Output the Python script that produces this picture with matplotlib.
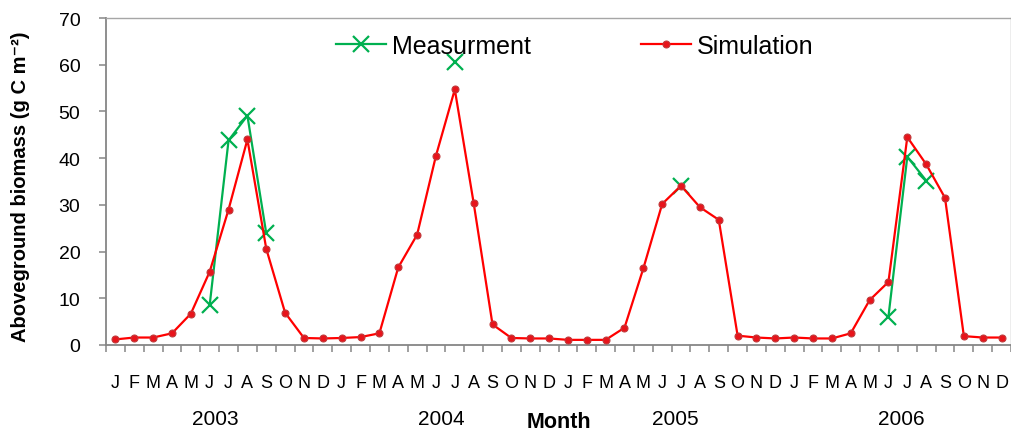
import numpy as np
import matplotlib
matplotlib.use("Agg")
import matplotlib.pyplot as plt
from matplotlib import font_manager

# --- data -----------------------------------------------------------------
month_letters = ["J", "F", "M", "A", "M", "J", "J", "A", "S", "O", "N", "D"]
years = ["2003", "2004", "2005", "2006"]

simulation = [
    1.2, 1.6, 1.6, 2.5, 6.7, 15.7, 29.0, 44.0, 20.6, 6.9, 1.5, 1.4,      # 2003
    1.5, 1.7, 2.5, 16.6, 23.6, 40.5, 54.7, 30.4, 4.4, 1.5, 1.4, 1.4,     # 2004
    1.1, 1.1, 1.1, 3.7, 16.4, 30.2, 34.1, 29.5, 26.8, 2.0, 1.6, 1.4,     # 2005
    1.6, 1.4, 1.4, 2.5, 9.6, 13.5, 44.5, 38.7, 31.5, 1.9, 1.6, 1.6,      # 2006
]

nan = np.nan
measurement = [
    nan, nan, nan, nan, nan, 8.6, 43.8, 49.1, 23.9, nan, nan, nan,       # 2003
    nan, nan, nan, nan, nan, nan, 60.5, nan, nan, nan, nan, nan,         # 2004
    nan, nan, nan, nan, nan, nan, 34.1, nan, nan, nan, nan, nan,         # 2005
    nan, nan, nan, nan, nan, 6.1, 40.3, 35.2, nan, nan, nan, nan,        # 2006
]

# --- fonts ----------------------------------------------------------------
available = {f.name for f in font_manager.fontManager.ttflist}
base_font = "Liberation Sans" if "Liberation Sans" in available else "DejaVu Sans"
narrow_font = "Liberation Sans Narrow" if "Liberation Sans Narrow" in available else base_font
plt.rcParams["font.family"] = [base_font, "DejaVu Sans"]

GREEN = "#00B050"
RED = "#FF0000"
AXIS_GRAY = "#868686"

fig = plt.figure(figsize=(10.12, 4.35), dpi=100)
ax = fig.add_axes([106 / 1012, 1 - 346 / 435, 905 / 1012, 327 / 435])

x = np.arange(len(simulation))
ax.plot(x, measurement, color=GREEN, lw=1.6, marker="x", ms=12, mew=1.6,
        label="Measurment", zorder=3)
ax.plot(x, simulation, color=RED, lw=1.6, marker="o", ms=5,
        mfc="#E8141B", mec="#C0393B", mew=0.8, label="Simulation", zorder=4)

# axes limits and ticks
ax.set_xlim(-0.5, len(simulation) - 0.5)
ax.set_ylim(0, 70)
ax.set_yticks(np.arange(0, 71, 10))
ax.tick_params(axis="y", direction="out", length=5, width=1.1, color=AXIS_GRAY,
               labelsize=14, pad=13.5)

# month boundaries as major ticks, month letters centred as minor labels
ax.set_xticks(np.arange(-0.5, len(simulation), 1.0))
ax.set_xticklabels([])
ax.set_xticks(x, minor=True)
ax.set_xticklabels(month_letters * len(years), minor=True,
                   fontfamily=[narrow_font, base_font], fontsize=13)
ax.tick_params(axis="x", which="major", direction="out", length=5, width=1.1,
               color=AXIS_GRAY)
ax.tick_params(axis="x", which="minor", length=0, pad=21)

for side in ["left", "bottom"]:
    ax.spines[side].set_color(AXIS_GRAY)
    ax.spines[side].set_linewidth(1.3)
for side in ["top", "right"]:
    ax.spines[side].set_color("#A6A6A6")
    ax.spines[side].set_linewidth(1.0)

# year labels under the month letters
year_pos = [5.3, 17.3, 29.7, 41.7]
for pos, yr in zip(year_pos, years):
    ax.annotate(yr, xy=(pos, 0), xycoords=("data", "figure fraction"),
                xytext=(pos, 1 - 420 / 435), textcoords=("data", "figure fraction"),
                ha="center", va="center", fontsize=15)

fig.text(559 / 1012, 1 - 423 / 435, "Month", ha="center", va="center",
         fontsize=15.5, fontweight="bold")
fig.text(21 / 1012, 1 - 187 / 435, "Aboveground biomass (g C m\u207b\u00b2)",
         rotation=90, ha="center", va="center", fontsize=14.5, fontweight="bold")

ax.legend(loc="center left", bbox_to_anchor=(0.254, 0.915), ncol=2,
          frameon=False, fontsize=18, handlelength=2.0, handletextpad=0.25,
          columnspacing=4.4, borderpad=0, borderaxespad=0)

fig.savefig("out.png", dpi=100)
